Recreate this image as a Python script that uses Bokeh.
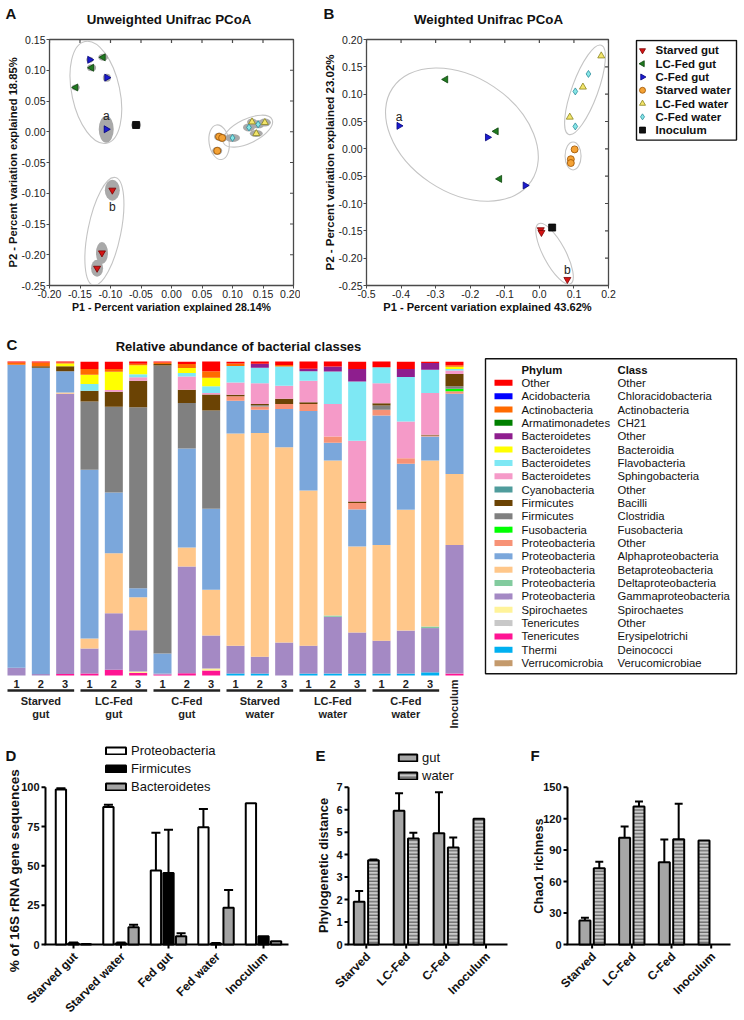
import math
from bokeh.plotting import figure
from bokeh.models import (Range1d, FixedTicker, NumeralTickFormatter, Legend, LegendItem,
                          ColumnDataSource)
from bokeh.layouts import column, row
from bokeh.core.properties import value
from bokeh.embed import file_html
from bokeh.resources import INLINE

FONT = "Liberation Sans"

# ---------------------------------------------------------------- data
GROUPS = ["Starved gut", "LC-Fed gut", "C-Fed gut", "Starved water",
          "LC-Fed water", "C-Fed water", "Inoculum"]

# A: unweighted UniFrac PCoA (P1, P2), one list per group
UNW_P1 = [[-0.097, -0.114, -0.122], [-0.112, -0.131, -0.157], [-0.134, -0.106, -0.107],
          [0.078, 0.083, 0.075], [0.132, 0.153, 0.139], [0.100, 0.127, 0.142], [-0.058]]
UNW_P2 = [[-0.095, -0.197, -0.222], [0.121, 0.104, 0.072], [0.117, 0.088, 0.004],
          [-0.008, -0.010, -0.031], [0.016, 0.015, -0.003], [-0.010, 0.007, 0.012], [0.011]]
# B: weighted UniFrac PCoA
W_P1 = [[0.004, 0.006, 0.081], [-0.271, -0.125, -0.115], [-0.406, -0.150, -0.041],
        [0.102, 0.091, 0.091], [0.179, 0.126, 0.088], [0.142, 0.104, 0.104], [0.037]]
W_P2 = [[-0.148, -0.153, -0.239], [0.127, 0.032, -0.055], [0.042, 0.021, -0.067],
        [-0.001, -0.019, -0.026], [0.170, 0.113, 0.058], [0.137, 0.105, 0.041], [-0.144]]

A_XTICKS = [-0.20, -0.15, -0.10, -0.05, 0.00, 0.05, 0.10, 0.15, 0.20]
A_YTICKS = [-0.25, -0.20, -0.15, -0.10, -0.05, 0.00, 0.05, 0.10, 0.15]
B_XTICKS = [-0.5, -0.4, -0.3, -0.2, -0.1, 0.0, 0.1, 0.2]
B_YTICKS = [-0.25, -0.20, -0.15, -0.10, -0.05, 0.00, 0.05, 0.10, 0.15, 0.20]

# C: relative abundance of bacterial classes (%), 19 samples
SAMPLE_GROUPS = [("Starved", "gut"), ("LC-Fed", "gut"), ("C-Fed", "gut"),
                 ("Starved", "water"), ("LC-Fed", "water"), ("C-Fed", "water")]
REPLICATES = ["1", "2", "3"]
INOCULUM = "Inoculum"

AB_OTHER = [0.3, 0.3, 0.3, 2.3, 2.3, 0.7, 0.3, 0.7, 3.1, 0.5, 0.7, 1.1, 2.3, 1.6, 2.3, 1.8, 2.3, 0.4, 1.1]
AB_CHLORACIDO = [0, 0, 0, 0, 0, 0, 0, 0, 0, 0, 0, 0, 0, 0, 0, 0, 0, 0, 0]
AB_ACTINO = [0.7, 1.2, 0.3, 1.8, 0.9, 0.5, 0.5, 1.3, 2.1, 0.8, 0, 0.5, 0, 0, 0, 0, 0, 0, 0.5]
AB_CH21 = [0, 0, 0, 0, 0, 0, 0, 0, 0, 0, 0, 0, 0, 0, 0, 0, 0, 0, 0]
AB_BACT_OTHER = [0, 0, 0, 0, 0, 0, 0, 0, 0, 0, 1.3, 0, 0.8, 1.6, 4.0, 0, 2.5, 2.1, 0]
AB_BACTEROIDIA = [0, 0, 0.9, 3.0, 5.8, 2.9, 0, 1.6, 2.7, 0, 0, 0, 0, 0, 0, 0, 0, 0, 0.7]
AB_FLAVO = [0, 0, 0, 2.1, 0, 0.9, 0, 1.1, 2.1, 5.3, 4.9, 6.1, 3.0, 10.3, 18.8, 5.1, 14.2, 7.4, 0.5]
AB_SPHINGO = [0, 0, 0, 0, 0.5, 1.1, 0, 4.2, 0.5, 3.9, 6.6, 4.2, 6.9, 10.4, 19.4, 6.4, 11.7, 13.3, 1.1]
AB_CYANO = [0, 0, 0, 0, 0, 0, 0, 0, 0, 0, 0, 0, 0, 0, 0, 0, 0, 0, 0]
AB_BACILLI = [0, 0.5, 1.6, 3.4, 4.8, 8.5, 0.5, 4.2, 5.1, 0.5, 0.4, 1.6, 0.5, 0, 0.5, 0.7, 0, 0.3, 3.9]
AB_CLOSTRIDIA = [0, 0, 0, 21.8, 27.3, 57.6, 91.7, 14.5, 31.3, 0, 0.4, 0, 0, 0, 0, 1.4, 0, 0, 0.8]
AB_FUSO = [0, 0, 0, 0, 0, 0, 0, 0, 0, 0, 0, 0, 0, 0, 0, 0, 0, 0, 0.8]
AB_PROTEO_OTHER = [0, 0, 0, 0, 0, 0, 0, 0, 0, 1.4, 1.1, 1.6, 2.3, 2.0, 2.0, 1.8, 1.8, 0.3, 0.8]
AB_ALPHA = [96.5, 97.5, 6.8, 53.7, 19.4, 2.9, 6.4, 31.5, 25.8, 10.4, 7.4, 12.2, 25.3, 5.6, 11.8, 41.2, 14.6, 7.6, 25.5]
AB_BETA = [0, 0, 0.4, 3.2, 19.1, 10.5, 0, 6.1, 14.6, 67.6, 71.2, 62.2, 49.4, 49.4, 27.4, 30.5, 38.5, 52.9, 22.6]
AB_DELTA = [0, 0, 0, 0, 0, 0, 0, 0, 0, 0, 0, 0, 0, 0.4, 0, 0, 0, 0.5, 0]
AB_GAMMA = [2.5, 0.5, 89.2, 8.0, 18.0, 13.1, 0.3, 34.0, 10.5, 8.9, 5.4, 10.5, 8.9, 18.1, 13.1, 10.5, 13.7, 14.1, 41.0]
AB_SPIRO = [0, 0, 0, 0, 0, 0.5, 0, 0, 0.6, 0, 0, 0, 0, 0, 0, 0, 0, 0, 0]
AB_TENER_OTHER = [0, 0, 0, 0, 0, 0, 0, 0, 0, 0, 0, 0, 0, 0, 0, 0, 0, 0, 0]
AB_ERYSIP = [0, 0, 0.5, 0.6, 1.8, 0.8, 0.3, 0.7, 1.6, 0, 0, 0, 0, 0, 0, 0, 0, 0, 0.6]
AB_DEINO = [0, 0, 0, 0, 0, 0, 0, 0, 0, 0.6, 0.6, 0, 0.6, 0.6, 0.6, 0.6, 0.6, 1.0, 0]
AB_VERRUCO = [0, 0, 0, 0, 0, 0, 0, 0, 0, 0, 0, 0, 0, 0, 0, 0, 0, 0, 0]

PHYLA = ["Other", "Acidobacteria", "Actinobacteria", "Armatimonadetes", "Bacteroidetes",
         "Bacteroidetes", "Bacteroidetes", "Bacteroidetes", "Cyanobacteria", "Firmicutes",
         "Firmicutes", "Fusobacteria", "Proteobacteria", "Proteobacteria", "Proteobacteria",
         "Proteobacteria", "Proteobacteria", "Spirochaetes", "Tenericutes", "Tenericutes",
         "Thermi", "Verrucomicrobia"]
CLASSES = ["Other", "Chloracidobacteria", "Actinobacteria", "CH21", "Other", "Bacteroidia",
           "Flavobacteria", "Sphingobacteria", "Other", "Bacilli", "Clostridia", "Fusobacteria",
           "Other", "Alphaproteobacteria", "Betaproteobacteria", "Deltaproteobacteria",
           "Gammaproteobacteria", "Spirochaetes", "Other", "Erysipelotrichi", "Deinococci",
           "Verucomicrobiae"]
ABUND = [AB_OTHER, AB_CHLORACIDO, AB_ACTINO, AB_CH21, AB_BACT_OTHER, AB_BACTEROIDIA, AB_FLAVO,
         AB_SPHINGO, AB_CYANO, AB_BACILLI, AB_CLOSTRIDIA, AB_FUSO, AB_PROTEO_OTHER, AB_ALPHA,
         AB_BETA, AB_DELTA, AB_GAMMA, AB_SPIRO, AB_TENER_OTHER, AB_ERYSIP, AB_DEINO, AB_VERRUCO]

# D: phyla (% of 16S rRNA gene sequences), mean and SD
D_CATS = ["Starved gut", "Starved water", "Fed gut", "Fed water", "Inoculum"]
D_PROTEO = [98.5, 87.4, 47.0, 74.6, 89.8]
D_PROTEO_ERR = [0.8, 1.4, 24.0, 11.6, 0.0]
D_FIRMI = [0.8, 0.8, 45.5, 0.6, 5.3]
D_FIRMI_ERR = [0.5, 0.4, 27.5, 0.3, 0.0]
D_BACTE = [0.2, 11.0, 5.3, 23.3, 2.1]
D_BACTE_ERR = [0.1, 1.5, 1.9, 11.4, 0.0]
D_TICKS = [0, 25, 50, 75, 100]

# E: phylogenetic distance ; F: Chao1 richness
EF_CATS = ["Starved", "LC-Fed", "C-Fed", "Inoculum"]
E_GUT = [1.9, 5.95, 4.95]
E_GUT_ERR = [0.48, 0.78, 1.83]
E_WATER = [3.75, 4.72, 4.32, 5.6]
E_WATER_ERR = [0.03, 0.25, 0.44, 0.0]
E_TICKS = [0, 1, 2, 3, 4, 5, 6, 7]
F_GUT = [22.9, 101.7, 78.5]
F_GUT_ERR = [2.5, 10.8, 21.6]
F_WATER = [72.8, 131.6, 100.4, 99.1]
F_WATER_ERR = [6.0, 4.7, 33.7, 0.0]
F_TICKS = [0, 30, 60, 90, 120, 150]

# ---------------------------------------------------------------- styles
MARKERS = ["inverted_triangle", "triangle", "triangle", "circle", "triangle", "diamond", "square"]
M_ANGLES = [0.0, math.pi / 2, -math.pi / 2, 0.0, 0.0, 0.0, 0.0]
M_FILLS = ["#d41414", "#1f7a1f", "#1c1cd0", "#f4a235", "#f3e56a", "#86e6e6", "#111111"]
M_LINES = ["#7a0000", "#0b420b", "#00007a", "#9a5200", "#8a8420", "#2a8c9c", "#000000"]
CLASS_COLORS = ["#ff0000", "#0000ff", "#ff6a00", "#008000", "#8e1e8e", "#ffff00", "#7ee8f4",
                "#f59ac8", "#4f9c9c", "#6b4304", "#808080", "#00ff00", "#f79276", "#7ba7db",
                "#ffc78a", "#82cb9e", "#a489c4", "#fff39a", "#c8c8c8", "#ff1493", "#00b0f0",
                "#c49a6c"]
A_BLOB_W = [[15, 12, 12], [10, 9, 8], [7, 8, 15], [10, 10, 10], [10, 12, 13], [15, 12, 13], [10]]
A_BLOB_H = [[21, 22, 17], [7, 7, 6], [6, 8, 27], [8, 8, 8], [7, 8, 7], [8, 8, 8], [8]]
A_RINGS = [(-0.124, 0.064, 48, 104, 0.21), (-0.110, -0.162, 33, 110, -0.2),
           (0.078, -0.017, 20, 35, 0.15), (0.125, 0.001, 54, 24, 0.45)]
B_RINGS = [(-0.224, 0.026, 167, 115, -0.59), (0.132, 0.108, 95, 26, 1.22),
           (0.0975, -0.013, 16, 28, 0.0), (0.044, -0.192, 68, 22, -1.08)]

COMMON = dict(output_backend="svg", toolbar_location=None, title_location=None)
ROW1_TOP, ROW2_TOP, ROW3_TOP, PAGE_BOTTOM = 31, 315, 729, 1018


def blank(p):
    p.grid.visible = False
    p.outline_line_color = None


def strip(width, height):
    """Text-only figure whose data coordinates are its own pixels (y down)."""
    p = figure(width=width, height=height, x_range=Range1d(0, width), y_range=Range1d(height, 0),
               min_border=0, x_axis_location=None, y_axis_location=None, **COMMON)
    blank(p)
    return p


def put(p, x, y, text, size, bold=True, align="left", angle=0.0, color="#111111"):
    p.text(x=[x], y=[y], text=[text], angle=angle, text_font=value(FONT),
           text_font_size=f"{size}px", text_font_style="bold" if bold else "normal",
           text_align=align, text_baseline="middle", text_color=color)


# ---------------------------------------------------------------- header (y 0..31)
hdr = strip(744, ROW1_TOP)
put(hdr, 5, 13, "A", 15)
put(hdr, 168.5, 18.5, "Unweighted Unifrac PCoA", 13.3, align="center")
put(hdr, 323, 13, "B", 15)
put(hdr, 488, 18.5, "Weighted Unifrac PCoA", 13.3, align="center")


# ---------------------------------------------------------------- A & B (y 31..315)
def pcoa_fig(width, left, right, xr, yr, xt, yt, xf, yf, xlab, ylab, xls, yls):
    p = figure(width=width, height=ROW2_TOP - ROW1_TOP, x_range=Range1d(*xr), y_range=Range1d(*yr),
               min_border_left=left, min_border_right=right, min_border_top=8,
               min_border_bottom=29, **COMMON)
    p.grid.visible = False
    p.outline_line_color = "#4a4a4a"
    p.outline_line_width = 1.3
    p.xaxis.ticker = FixedTicker(ticks=xt)
    p.yaxis.ticker = FixedTicker(ticks=yt)
    p.xaxis.formatter = NumeralTickFormatter(format=xf)
    p.yaxis.formatter = NumeralTickFormatter(format=yf)
    p.axis.axis_line_color = "#4a4a4a"
    p.axis.major_tick_line_color = "#4a4a4a"
    p.axis.major_tick_out = 3
    p.axis.major_tick_in = 0
    p.axis.minor_tick_line_color = None
    p.axis.major_label_text_font = FONT
    p.axis.major_label_text_font_size = "10.5px"
    p.axis.major_label_text_color = "#222222"
    p.axis.major_label_standoff = 1
    p.xaxis.axis_label = xlab
    p.yaxis.axis_label = ylab
    p.xaxis.axis_label_text_font_size = f"{xls}px"
    p.yaxis.axis_label_text_font_size = f"{yls}px"
    p.axis.axis_label_text_font = FONT
    p.axis.axis_label_text_font_style = "bold"
    p.axis.axis_label_text_color = "#111111"
    p.axis.axis_label_standoff = 0
    # inward mirror ticks on the top and right edges (half of each dash is clipped by the frame)
    p.scatter(x=xt, y=[yr[1]] * len(xt), marker="dash", angle=math.pi / 2, size=7,
              line_color="#4a4a4a", line_width=1.2)
    p.scatter(x=[xr[1]] * len(yt), y=yt, marker="dash", size=7, line_color="#4a4a4a", line_width=1.2)
    return p


def rings(p, spec):
    for cx_, cy_, w, h, a in spec:
        p.ellipse(x=[cx_], y=[cy_], width=[w], height=[h], angle=[a], width_units="screen",
                  height_units="screen", fill_color=None, line_color="#c4c4c4", line_width=1.1)


def points(p, xs, ys, size):
    for g in range(len(GROUPS)):
        p.scatter(xs[g], ys[g], marker=MARKERS[g], angle=M_ANGLES[g], size=size,
                  fill_color=M_FILLS[g], line_color=M_LINES[g], line_width=0.8)


def letter(p, x, y, t, dy):
    p.text(x=[x], y=[y], text=[t], y_offset=dy, text_font=value(FONT), text_font_size="12px",
           text_align="center", text_baseline="middle", text_color="#222")


pA = pcoa_fig(300, 49, 7, (-0.20, 0.20), (-0.25, 0.15), A_XTICKS, A_YTICKS, "0.00", "0.00",
              "P1 - Percent variation explained 28.14%", "P2 - Percent variation explained 18.85%",
              10.6, 11.2)
rings(pA, A_RINGS)
for g in range(len(GROUPS)):
    pA.ellipse(x=UNW_P1[g], y=UNW_P2[g], width=A_BLOB_W[g], height=A_BLOB_H[g],
               width_units="screen", height_units="screen", fill_color="#a9a9a9", line_color=None)
points(pA, UNW_P1, UNW_P2, 7)
letter(pA, UNW_P1[2][2], UNW_P2[2][2], "a", -13)
letter(pA, UNW_P1[0][0], UNW_P2[0][0], "b", 17)

pB = pcoa_fig(318, 66, 10, (-0.5, 0.2), (-0.25, 0.20), B_XTICKS, B_YTICKS, "0.0", "0.00",
              "P1 - Percent variation explained 43.62%", "P2 - Percent variation explained 23.02%",
              11.1, 11.5)
rings(pB, B_RINGS)
points(pB, W_P1, W_P2, 7)
letter(pB, W_P1[2][0], W_P2[2][0], "a", -9)
letter(pB, W_P1[0][2], W_P2[0][2], "b", -9)

# group legend: same top/bottom borders as A and B (plots in a row share them),
# data coordinates = page pixels (frame spans page y 39..286)
pL = figure(width=126, height=ROW2_TOP - ROW1_TOP, x_range=Range1d(618, 744), y_range=Range1d(286, 39),
            min_border_left=0, min_border_right=0, min_border_top=8, min_border_bottom=29,
            x_axis_location=None, y_axis_location=None, **COMMON)
blank(pL)
pL.quad(left=[636], right=[736], top=[40], bottom=[140], fill_color=None,
        line_color="#111111", line_width=1.4)
for g, name in enumerate(GROUPS):
    ry = 50 + 13.33 * g
    pL.scatter([642], [ry], marker=MARKERS[g], angle=M_ANGLES[g], size=6,
               fill_color=M_FILLS[g], line_color=M_LINES[g], line_width=0.8)
    put(pL, 655, ry, name, 11.5)

# ---------------------------------------------------------------- C (y 315..729)
C_X1, C_PITCH, C_TOP, C_BOT = 16.0, 24.333, 361.0, 675.0   # page px geometry


def cx(px):
    return 1 + (px - C_X1) / C_PITCH


def cy(py):
    return (C_BOT - py) * 100.0 / (C_BOT - C_TOP)


pC = figure(width=480, height=ROW3_TOP - ROW2_TOP, x_range=Range1d(cx(0), cx(480)),
            y_range=Range1d(cy(ROW3_TOP), cy(ROW2_TOP)),
            min_border=0, x_axis_location=None, y_axis_location=None, **COMMON)
blank(pC)
n_samples = len(AB_ALPHA)
keys = [f"c{i}" for i in range(len(ABUND))]
cdata = {"x": list(range(1, n_samples + 1))}
for k, arr in zip(keys, ABUND):
    cdata[k] = arr
pC.vbar_stack(keys[::-1], x="x", width=0.74, fill_color=CLASS_COLORS[::-1], line_color=None,
              source=ColumnDataSource(cdata))
num_x, num_t, grp_x, l1, l2, seg0, seg1 = [], [], [], [], [], [], []
for gi, (a, b) in enumerate(SAMPLE_GROUPS):
    first = 3 * gi + 1
    for r, rep in enumerate(REPLICATES):
        num_x.append(first + r)
        num_t.append(rep)
    grp_x.append(first + 1)
    l1.append(a)
    l2.append(b)
    seg0.append(first - 0.37)
    seg1.append(first + 2 + 0.37)
txt = dict(text_font=value(FONT), text_font_size="11px", text_font_style="bold",
           text_align="center", text_baseline="middle", text_color="#222222")
pC.text(x=num_x, y=[cy(683)] * len(num_x), text=num_t, **txt)
pC.segment(x0=seg0, y0=[cy(690)] * len(seg0), x1=seg1, y1=[cy(690)] * len(seg0),
           line_color="#222222", line_width=2.5)
pC.text(x=grp_x, y=[cy(700.5)] * len(grp_x), text=l1, **txt)
pC.text(x=grp_x, y=[cy(713)] * len(grp_x), text=l2, **txt)
pC.text(x=[n_samples], y=[cy(703.5)], text=[INOCULUM], angle=math.pi / 2, **txt)
put(pC, cx(238), cy(346), "Relative abundance of bacterial classes", 13, align="center")
put(pC, cx(6), cy(344), "C", 15)

# class legend (page x 480..744, y 315..729)
pCL = strip(264, ROW3_TOP - ROW2_TOP)
pCL.quad(left=[5], right=[256], top=[43.3], bottom=[358.3], fill_color=None,
         line_color="#111111", line_width=1.4)
lt = dict(text_font=value(FONT), text_font_size="11.3px", text_baseline="middle", text_color="#111")
pCL.text(x=[41, 137], y=[54, 54], text=["Phylum", "Class"], text_font_style="bold", **lt)
rows_y = [67.3 + 13.35 * i for i in range(len(PHYLA))]
pCL.quad(left=[14] * len(PHYLA), right=[32] * len(PHYLA), top=[y - 3 for y in rows_y],
         bottom=[y + 3 for y in rows_y], fill_color=CLASS_COLORS, line_color=None)
pCL.text(x=[41] * len(PHYLA), y=rows_y, text=PHYLA, **lt)
pCL.text(x=[137] * len(CLASSES), y=rows_y, text=CLASSES, **lt)

# ---------------------------------------------------------------- D, E, F (y 729..1018)
# Full-frame figures: the GraphPad-style axes are drawn inside each frame so that the
# rotated category labels and titles are never clipped.
ROW3_H = PAGE_BOTTOM - ROW3_TOP
AXIS_Y = 944          # page y of value 0
TOP_TICK_Y = 786.7    # page y of the highest tick


class Panel:
    def __init__(self, fig_left, width, x0_page, pitch, axis_l, axis_r, cats, ticks):
        self.x0, self.pitch, self.s = x0_page, pitch, (AXIS_Y - TOP_TICK_Y) / ticks[-1]
        p = figure(width=width, height=ROW3_H,
                   x_range=Range1d(self.dx(fig_left), self.dx(fig_left + width)),
                   y_range=Range1d(self.dy(PAGE_BOTTOM), self.dy(ROW3_TOP)),
                   min_border=0, x_axis_location=None, y_axis_location=None, **COMMON)
        blank(p)
        self.p = p
        idx = list(range(len(cats)))
        ax = self.dx(axis_l)
        ax_line = dict(line_color="black", line_width=2)
        p.segment(x0=[ax], y0=[0], x1=[ax], y1=[ticks[-1]], **ax_line)
        p.segment(x0=[self.dx(axis_l - 1)], y0=[0], x1=[self.dx(axis_r)], y1=[0], **ax_line)
        p.segment(x0=[self.dx(axis_l - 4)] * len(ticks), y0=ticks, x1=[ax] * len(ticks), y1=ticks, **ax_line)
        p.text(x=[self.dx(axis_l - 6)] * len(ticks), y=ticks, text=[str(t) for t in ticks],
               text_font=value(FONT), text_font_size="11px", text_font_style="bold",
               text_align="right", text_baseline="middle", text_color="#111")
        p.segment(x0=idx, y0=[0] * len(idx), x1=idx, y1=[-4 / self.s] * len(idx), **ax_line)
        p.text(x=[i + 2 / pitch for i in idx], y=[-10 / self.s] * len(idx), text=cats,
               angle=math.pi / 4, text_font=value(FONT), text_font_size="12px",
               text_font_style="bold", text_align="right", text_baseline="middle", text_color="#111")

    def dx(self, px):
        return (px - self.x0) / self.pitch

    def dy(self, py):
        return (AXIS_Y - py) / self.s

    def text(self, px, py, t, size, align="left", angle=0.0):
        put(self.p, self.dx(px), self.dy(py), t, size, align=align, angle=angle)

    def bars(self, idx, vals, off, width, **style):
        return self.p.vbar(x=[i + off for i in idx], top=vals, bottom=0, width=width,
                           line_color="black", line_width=2, **style)

    def errs(self, idx, vals, err, off, capw):
        keep = [k for k, e in enumerate(err) if e > 0]
        xs = [idx[k] + off for k in keep]
        lo = [vals[k] for k in keep]
        hi = [vals[k] + err[k] for k in keep]
        self.p.segment(x0=xs, y0=lo, x1=xs, y1=hi, line_color="black", line_width=2)
        self.p.segment(x0=[x - capw / 2 for x in xs], y0=hi, x1=[x + capw / 2 for x in xs], y1=hi,
                       line_color="black", line_width=2)

    def legend(self, items, page_left, page_bottom, gw):
        leg = Legend(items=[LegendItem(label=t, renderers=[r]) for t, r in items],
                     location=(page_left - self.fig_left, PAGE_BOTTOM - page_bottom),
                     padding=0, margin=0, spacing=3, glyph_width=gw, glyph_height=9,
                     label_height=13, label_standoff=3, label_text_font=FONT,
                     label_text_font_size="13px", label_text_color="#111",
                     border_line_color=None, background_fill_alpha=0)
        self.p.add_layout(leg)


# D
D = Panel(0, 290, 73, 47.5, 45, 288, D_CATS, D_TICKS)
D.fig_left = 0
d_idx = list(range(len(D_CATS)))
rP = D.bars(d_idx, D_PROTEO, -0.265, 0.217, fill_color="white")
rF = D.bars(d_idx, D_FIRMI, 0.0, 0.217, fill_color="black")
rB = D.bars(d_idx, D_BACTE, 0.265, 0.217, fill_color="#a3a3a3")
D.errs(d_idx, D_PROTEO, D_PROTEO_ERR, -0.265, 0.19)
D.errs(d_idx, D_FIRMI, D_FIRMI_ERR, 0.0, 0.19)
D.errs(d_idx, D_BACTE, D_BACTE_ERR, 0.265, 0.19)
D.legend([("Proteobacteria", rP), ("Firmicutes", rF), ("Bacteroidetes", rB)], 103, 794, 25)
D.text(5, 755, "D", 15)
D.text(14, 870, "% of 16S rRNA gene sequences", 13.5, align="center", angle=math.pi / 2)

HATCH = dict(fill_color="#c9c9c9", hatch_pattern="horizontal_line", hatch_color="#4a4a4a",
             hatch_scale=3.4, hatch_weight=1.0)


def ef(fig_left, width, x0, pitch, axis_l, axis_r, ticks, gut, gut_err, water, water_err, off, bw):
    P = Panel(fig_left, width, x0, pitch, axis_l, axis_r, EF_CATS, ticks)
    P.fig_left = fig_left
    ng = len(gut)
    gi = list(range(ng))
    wi = list(range(len(water)))
    rg = P.bars(gi, gut, -off, bw, fill_color="#a6a6a6")
    rw = P.bars(wi[:ng], water[:ng], off, bw, **HATCH)
    P.bars(wi[ng:], water[ng:], -off, bw, **HATCH)      # inoculum sits in the first slot
    P.errs(gi, gut, gut_err, -off, 0.2)
    P.errs(wi[:ng], water[:ng], water_err[:ng], off, 0.2)
    return P, rg, rw


E, rg, rw = ef(290, 220, 365.8, 39.9, 348, 507, E_TICKS, E_GUT, E_GUT_ERR, E_WATER, E_WATER_ERR,
               0.179, 0.268)
E.legend([("gut", rg), ("water", rw)], 396, 783, 23)
E.text(315, 755, "E", 15)
E.text(322.5, 865, "Phylogenetic distance", 12.8, align="center", angle=math.pi / 2)

F, _, _ = ef(510, 234, 591.6, 39.7, 567, 730, F_TICKS, F_GUT, F_GUT_ERR, F_WATER, F_WATER_ERR,
             0.181, 0.277)
F.text(530, 755, "F", 15)
F.text(537.5, 865.5, "Chao1 richness", 12.8, align="center", angle=math.pi / 2)

layout = column(hdr, row(pA, pB, pL), row(pC, pCL), row(D.p, E.p, F.p))
open("out.html", "w").write(file_html(layout, INLINE, "Figure"))
